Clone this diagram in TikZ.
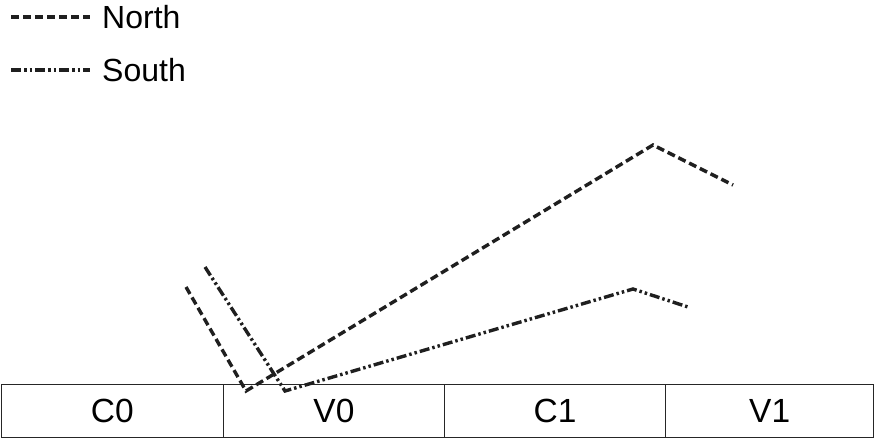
\documentclass[tikz,border=0pt]{standalone}
\usepackage{fontspec}
\setmainfont{Liberation Sans}
\begin{document}
\begin{tikzpicture}[x=1pt,y=-1pt,
  cell/.style={draw=black!85,line width=1.5pt,minimum height=53pt,inner sep=0pt,outer sep=0pt,font=\fontsize{33.5}{33.5}\selectfont,anchor=north west},
  north/.style={line width=3.4pt,dash pattern=on 8pt off 4pt,color=black!88},
  south/.style={line width=3.4pt,dash pattern=on 10pt off 3pt on 2.5pt off 3pt on 2.5pt off 3pt,color=black!88},
  lbl/.style={font=\fontsize{32}{32}\selectfont,anchor=west,inner sep=0pt}]
\useasboundingbox (0,0) rectangle (875,439);
\node[cell,minimum width=221.8pt] (c0) at (1.5,384.5) {C0};
\node[cell,minimum width=221.2pt] (v0) at (c0.north east) {V0};
\node[cell,minimum width=221.2pt] (c1) at (v0.north east) {C1};
\node[cell,minimum width=208pt] (v1) at (c1.north east) {V1};
% legend
\coordinate (ln1) at (11,17);
\coordinate (ln2) at (90,17);
\draw[north] (ln1) -- (ln2);
\node[lbl] (tn) at (102,17) {North};
\coordinate (ls1) at (11,70);
\coordinate (ls2) at (90,70);
\draw[south] (ls1) -- (ls2);
\node[lbl] (ts) at (102,70) {South};
% data lines
\coordinate (n1) at (186,287);
\coordinate (n2) at (246,391);
\coordinate (n3) at (653,145);
\coordinate (n4) at (733,185);
\draw[north,line join=miter] (n1) -- (n2) -- (n3) -- (n4);
\coordinate (s1) at (205,267);
\coordinate (s2) at (285,391);
\coordinate (s3) at (633,289);
\coordinate (s4) at (688,307);
\draw[south,line join=miter] (s1) -- (s2) -- (s3) -- (s4);
\end{tikzpicture}
\end{document}
